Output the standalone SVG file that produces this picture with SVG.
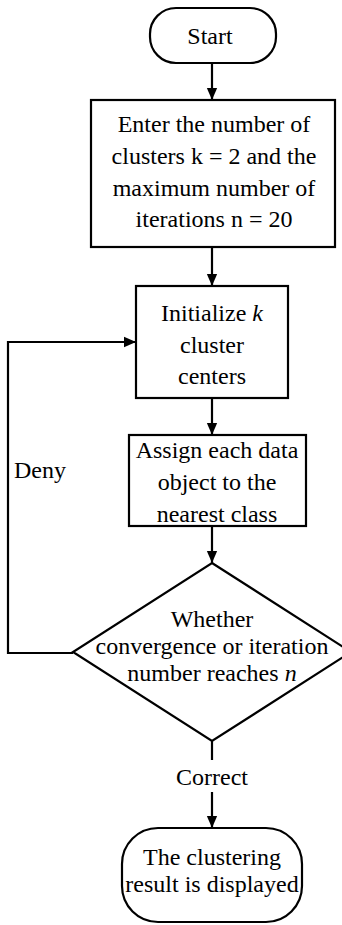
<svg xmlns="http://www.w3.org/2000/svg" width="342" height="925" viewBox="0 0 342 925">
<style>
.s{fill:#fff;stroke:#000;stroke-width:2.2}
.t{font-family:'Liberation Serif','DejaVu Serif',serif;font-size:24px;fill:#000;text-anchor:middle}
.c{fill:none;stroke:#000;stroke-width:2.2}
</style>
<defs>
<marker id="ad" markerWidth="12" markerHeight="14" refX="14" refY="6" orient="auto" markerUnits="userSpaceOnUse" viewBox="0 0 14 12">
<path d="M0,0 L14,6 L0,12 Z" fill="#000"/>
</marker>
</defs>
<g id="connectors">
<line class="c" x1="212" y1="63" x2="212" y2="100" marker-end="url(#ad)"/>
<line class="c" x1="212" y1="247" x2="212" y2="286" marker-end="url(#ad)"/>
<line class="c" x1="212" y1="398" x2="212" y2="435" marker-end="url(#ad)"/>
<line class="c" x1="212" y1="526" x2="212" y2="563" marker-end="url(#ad)"/>
<polyline class="c" points="73,653 8,653 8,342 136,342" marker-end="url(#ad)"/>
<line class="c" x1="212" y1="741" x2="212" y2="760"/>
<line class="c" x1="212" y1="792" x2="212" y2="828" marker-end="url(#ad)"/>
<text class="t" x="40" y="478">Deny</text>
<text class="t" x="212" y="785">Correct</text>
</g>
<g id="start">
<rect class="s" x="150" y="8" width="126" height="55" rx="26"/>
<text class="t" x="210" y="44">Start</text>
</g>
<g id="enter">
<rect class="s" x="91" y="100" width="244" height="147"/>
<text class="t" x="214" y="132">Enter the number of</text>
<text class="t" x="214" y="164">clusters k = 2 and the</text>
<text class="t" x="214" y="196">maximum number of</text>
<text class="t" x="214" y="227">iterations n = 20</text>
</g>
<g id="init">
<rect class="s" x="136" y="286" width="152" height="112"/>
<text class="t" x="212" y="321">Initialize <tspan font-style="italic">k</tspan></text>
<text class="t" x="212" y="353">cluster</text>
<text class="t" x="212" y="384">centers</text>
</g>
<g id="assign">
<rect class="s" x="129" y="435" width="177" height="91"/>
<text class="t" x="217" y="458">Assign each data</text>
<text class="t" x="217" y="490">object to the</text>
<text class="t" x="217" y="522">nearest class</text>
</g>
<g id="decision">
<polygon class="s" points="212,563 351,652 212,741 73,652"/>
<text class="t" x="212" y="627">Whether</text>
<text class="t" x="212" y="654">convergence or iteration</text>
<text class="t" x="212" y="681">number reaches <tspan font-style="italic">n</tspan></text>
</g>
<g id="end">
<rect class="s" x="122" y="828" width="180" height="94" rx="36"/>
<text class="t" x="212" y="865">The clustering</text>
<text class="t" x="212" y="892">result is displayed</text>
</g>
</svg>
